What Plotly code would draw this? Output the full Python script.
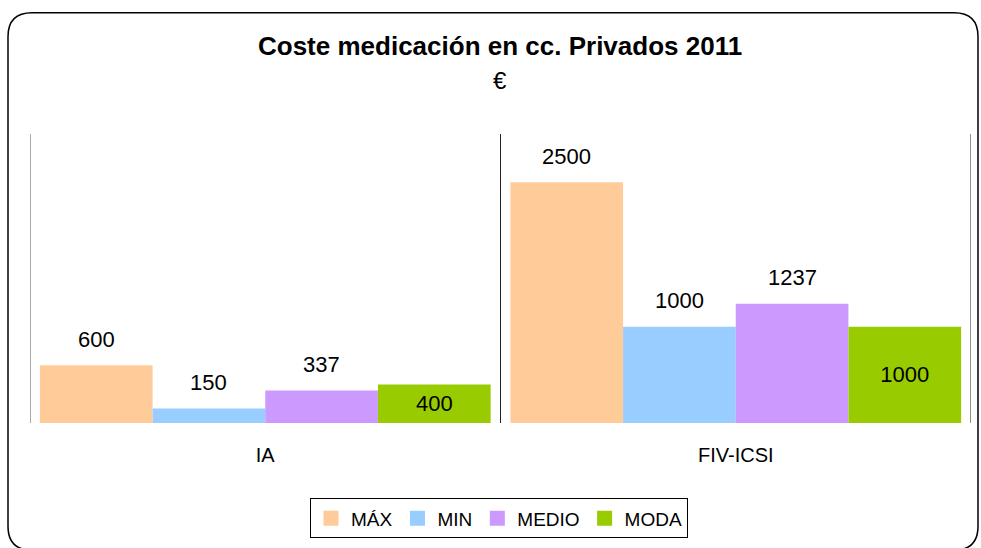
import plotly.graph_objects as go

categories = ["IA", "FIV-ICSI"]
series_names = ["MÁX", "MIN", "MEDIO", "MODA"]
max_vals = [600, 2500]
min_vals = [150, 1000]
medio_vals = [337, 1237]
moda_vals = [400, 1000]
colors = ["#FFCC99", "#99CCFF", "#CC99FF", "#99CC00"]

W, H = 981, 548
L, R, T, B = 30, 10, 134, 123
PW, PH = W - L - R, H - T - B


def px(xp):
    return (xp - L) / PW


def py(yp):
    return (H - B - yp) / PH


FONT = "Liberation Sans, Arial, sans-serif"
all_vals = [max_vals, min_vals, medio_vals, moda_vals]
x_idx = list(range(len(categories)))
bargap = 0.042
bw = (1 - bargap) / len(series_names)

fig = go.Figure()
for k, (name, vals, col) in enumerate(zip(series_names, all_vals, colors)):
    inside = name == "MODA"
    fig.add_trace(go.Bar(
        x=x_idx, y=vals, name=name, marker_color=col, marker_line_width=0,
        text=[str(v) for v in vals] if inside else None,
        textposition="inside" if inside else "none",
        insidetextanchor="middle",
        textfont=dict(family=FONT, size=22, color="#000000"),
        showlegend=False, hoverinfo="skip",
    ))
    # legend proxy
    fig.add_trace(go.Scatter(
        x=[None], y=[None], mode="markers", name=name,
        marker=dict(symbol="square", size=15, color=col),
    ))
    if not inside:
        off = -((len(series_names) - 1) / 2) * bw + k * bw
        for i, v in zip(x_idx, vals):
            fig.add_annotation(
                x=i + off, y=v, text=str(v), showarrow=False,
                yanchor="middle", yshift=26,
                font=dict(family=FONT, size=22, color="#000000"),
            )

shapes = []
for xv, lc in [(-0.5, "#555555"), (0.5, "#222222"), (1.5, "#222222")]:
    shapes.append(dict(type="line", xref="x", yref="paper", x0=xv, x1=xv,
                       y0=0, y1=1, line=dict(color=lc, width=1)))

# rounded outer border
x0, x1, y0, y1, r = 8, 978, 12, 553, 24
path = (f"M {px(x0 + r)},{py(y0)} L {px(x1 - r)},{py(y0)} "
        f"Q {px(x1)},{py(y0)} {px(x1)},{py(y0 + r)} "
        f"L {px(x1)},{py(y1 - r)} Q {px(x1)},{py(y1)} {px(x1 - r)},{py(y1)} "
        f"L {px(x0 + r)},{py(y1)} Q {px(x0)},{py(y1)} {px(x0)},{py(y1 - r)} "
        f"L {px(x0)},{py(y0 + r)} Q {px(x0)},{py(y0)} {px(x0 + r)},{py(y0)} Z")
shapes.append(dict(type="path", xref="paper", yref="paper", path=path,
                   line=dict(color="#000000", width=1.5)))

fig.add_annotation(xref="paper", yref="paper", x=px(500), y=py(45),
                   text="<b>Coste medicación en cc. Privados 2011</b>",
                   showarrow=False, xanchor="center", yanchor="middle",
                   font=dict(family=FONT, size=26, color="#000000"))
fig.add_annotation(xref="paper", yref="paper", x=px(500), y=py(80),
                   text="€", showarrow=False, xanchor="center", yanchor="middle",
                   font=dict(family=FONT, size=24, color="#000000"))

fig.update_layout(
    width=W, height=H,
    margin=dict(l=L, r=R, t=T, b=B),
    paper_bgcolor="white", plot_bgcolor="white",
    barmode="group", bargap=bargap, bargroupgap=0,
    shapes=shapes,
    showlegend=True,
    legend=dict(orientation="h", xref="paper", yref="paper",
                x=px(499), xanchor="center", y=py(501), yanchor="top",
                bordercolor="#000000", borderwidth=1, bgcolor="white",
                font=dict(family=FONT, size=19, color="#000000"),
                itemwidth=30, tracegroupgap=0),
    xaxis=dict(range=[-0.5, 1.5], tickvals=x_idx, ticktext=categories,
               showgrid=False, zeroline=False, showline=False, ticks="",
               ticklabelstandoff=18,
               tickfont=dict(family=FONT, size=20, color="#000000"),
               fixedrange=True),
    yaxis=dict(range=[0, 3000], showgrid=False, zeroline=False,
               showticklabels=False, showline=False, ticks="", fixedrange=True),
)

fig.write_html("out.html", config={"displayModeBar": False},
               post_script="document.body.style.margin='0px';")
